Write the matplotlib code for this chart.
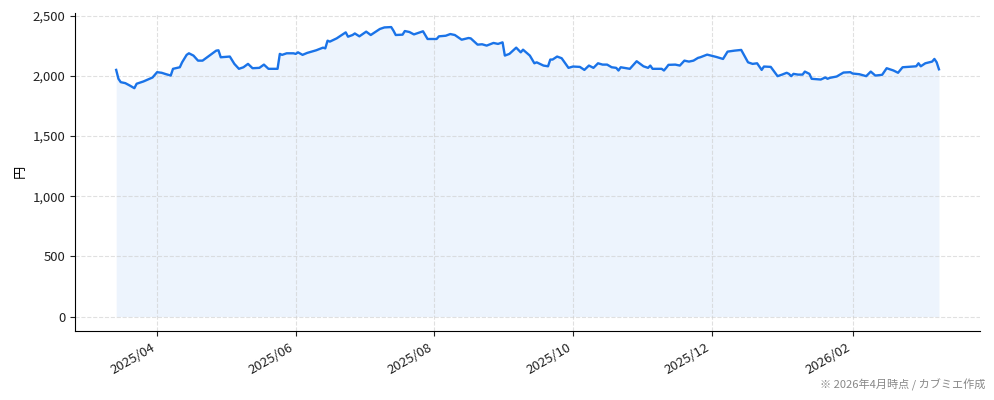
import pandas as pd
import matplotlib
matplotlib.use("Agg")
import matplotlib.pyplot as plt
import matplotlib.dates as mdates
from matplotlib.ticker import FuncFormatter

plt.rcParams['font.family'] = ['Noto Sans CJK JP', 'DejaVu Sans']

# 終値 (目視で読み取った値)
dates = [
    "2025-03-14", "2025-03-15", "2025-03-16", "2025-03-18", "2025-03-20", "2025-03-22",
    "2025-03-23", "2025-03-26", "2025-03-28", "2025-03-30", "2025-04-01", "2025-04-03",
    "2025-04-05", "2025-04-07", "2025-04-08", "2025-04-11", "2025-04-12", "2025-04-14",
    "2025-04-15", "2025-04-17", "2025-04-19", "2025-04-21", "2025-04-23", "2025-04-25",
    "2025-04-27", "2025-04-28", "2025-04-29", "2025-05-03", "2025-05-05", "2025-05-07",
    "2025-05-09", "2025-05-11", "2025-05-13", "2025-05-16", "2025-05-18", "2025-05-20",
    "2025-05-24", "2025-05-25", "2025-05-26", "2025-05-28", "2025-05-31", "2025-06-01",
    "2025-06-02", "2025-06-04", "2025-06-06", "2025-06-10", "2025-06-13", "2025-06-14",
    "2025-06-15", "2025-06-16", "2025-06-19", "2025-06-22", "2025-06-23", "2025-06-24",
    "2025-06-26", "2025-06-27", "2025-06-29", "2025-07-02", "2025-07-04", "2025-07-08",
    "2025-07-10", "2025-07-13", "2025-07-14", "2025-07-15", "2025-07-18", "2025-07-19",
    "2025-07-21", "2025-07-23", "2025-07-27", "2025-07-29", "2025-08-02", "2025-08-03",
    "2025-08-06", "2025-08-08", "2025-08-10", "2025-08-13", "2025-08-16", "2025-08-17",
    "2025-08-20", "2025-08-22", "2025-08-24", "2025-08-27", "2025-08-29", "2025-08-31",
    "2025-09-01", "2025-09-03", "2025-09-06", "2025-09-08", "2025-09-09", "2025-09-12",
    "2025-09-14", "2025-09-15", "2025-09-18", "2025-09-20", "2025-09-21", "2025-09-22",
    "2025-09-24", "2025-09-26", "2025-09-29", "2025-10-01", "2025-10-04", "2025-10-06",
    "2025-10-08", "2025-10-10", "2025-10-12", "2025-10-14", "2025-10-16", "2025-10-18",
    "2025-10-20", "2025-10-21", "2025-10-22", "2025-10-26", "2025-10-29", "2025-11-01",
    "2025-11-03", "2025-11-04", "2025-11-05", "2025-11-09", "2025-11-10", "2025-11-11",
    "2025-11-12", "2025-11-15", "2025-11-17", "2025-11-19", "2025-11-21", "2025-11-23",
    "2025-11-25", "2025-11-26", "2025-11-29", "2025-12-03", "2025-12-06", "2025-12-08",
    "2025-12-11", "2025-12-14", "2025-12-16", "2025-12-17", "2025-12-19", "2025-12-21",
    "2025-12-23", "2025-12-24", "2025-12-27", "2025-12-30", "2026-01-01", "2026-01-03",
    "2026-01-04", "2026-01-05", "2026-01-06", "2026-01-08", "2026-01-10", "2026-01-11",
    "2026-01-13", "2026-01-14", "2026-01-16", "2026-01-18", "2026-01-20", "2026-01-21",
    "2026-01-22", "2026-01-25", "2026-01-28", "2026-01-31", "2026-02-01", "2026-02-04",
    "2026-02-07", "2026-02-09", "2026-02-11", "2026-02-14", "2026-02-16", "2026-02-19",
    "2026-02-21", "2026-02-23", "2026-03-01", "2026-03-02", "2026-03-03", "2026-03-05",
    "2026-03-08", "2026-03-09", "2026-03-10", "2026-03-11",
]
prices = [
    2050, 1976, 1948, 1940, 1920, 1898,
    1935, 1954, 1970, 1987, 2031, 2026,
    2014, 2003, 2059, 2072, 2113, 2175,
    2188, 2169, 2127, 2127, 2155, 2183,
    2210, 2213, 2155, 2161, 2100, 2059,
    2072, 2100, 2064, 2067, 2094, 2059,
    2059, 2183, 2175, 2188, 2188, 2183,
    2196, 2175, 2191, 2213, 2235, 2229,
    2293, 2285, 2312, 2349, 2362, 2326,
    2340, 2353, 2329, 2368, 2340, 2390,
    2403, 2406, 2376, 2340, 2343, 2373,
    2365, 2345, 2371, 2307, 2307, 2329,
    2334, 2348, 2340, 2301, 2315, 2312,
    2260, 2263, 2252, 2274, 2266, 2279,
    2169, 2183, 2235, 2196, 2218, 2169,
    2105, 2113, 2086, 2080, 2136, 2136,
    2161, 2147, 2067, 2078, 2075, 2050,
    2086, 2067, 2105, 2094, 2094, 2072,
    2067, 2045, 2072, 2059, 2122, 2080,
    2067, 2086, 2059, 2059, 2045, 2067,
    2092, 2094, 2086, 2127, 2119, 2127,
    2150, 2155, 2177, 2158, 2141, 2202,
    2210, 2216, 2147, 2113, 2100, 2105,
    2050, 2078, 2075, 1998, 2011, 2026,
    2017, 1998, 2017, 2011, 2011, 2036,
    2017, 1976, 1973, 1970, 1987, 1976,
    1984, 1995, 2028, 2031, 2020, 2014,
    1998, 2036, 2003, 2009, 2064, 2045,
    2026, 2072, 2080, 2105, 2080, 2105,
    2119, 2141, 2113, 2055,
]

df = pd.DataFrame({"date": pd.to_datetime(dates), "close": prices})

line_color = "#1a73e8"

fig = plt.figure(figsize=(9.94, 4.0), dpi=100)
ax = fig.add_axes([0.0755, 0.1725, 0.9105, 0.796])

ax.plot(df["date"], df["close"], color=line_color, linewidth=1.7)
ax.fill_between(df["date"], df["close"], 0, color=line_color, alpha=0.08, linewidth=0)

ax.set_ylabel("円", fontsize=9.5)
ax.yaxis.set_major_formatter(FuncFormatter(lambda v, p: f"{int(v):,}"))
ax.set_yticks([0, 500, 1000, 1500, 2000, 2500])

ax.xaxis.set_major_locator(mdates.MonthLocator(bymonth=[2, 4, 6, 8, 10, 12]))
ax.xaxis.set_major_formatter(mdates.DateFormatter("%Y/%m"))
for lbl in ax.get_xticklabels():
    lbl.set_rotation(30)
    lbl.set_ha("right")

ax.tick_params(labelsize=9.5, colors="#222222")
ax.grid(True, linestyle="--", color="#cccccc", alpha=0.6, linewidth=0.8)
ax.spines["top"].set_visible(False)
ax.spines["right"].set_visible(False)

fig.text(0.991, 0.022, "※ 2026年4月時点 / カブミエ作成", ha="right", va="bottom",
         fontsize=8, color="#888888")

fig.savefig("out.png", dpi=100)
